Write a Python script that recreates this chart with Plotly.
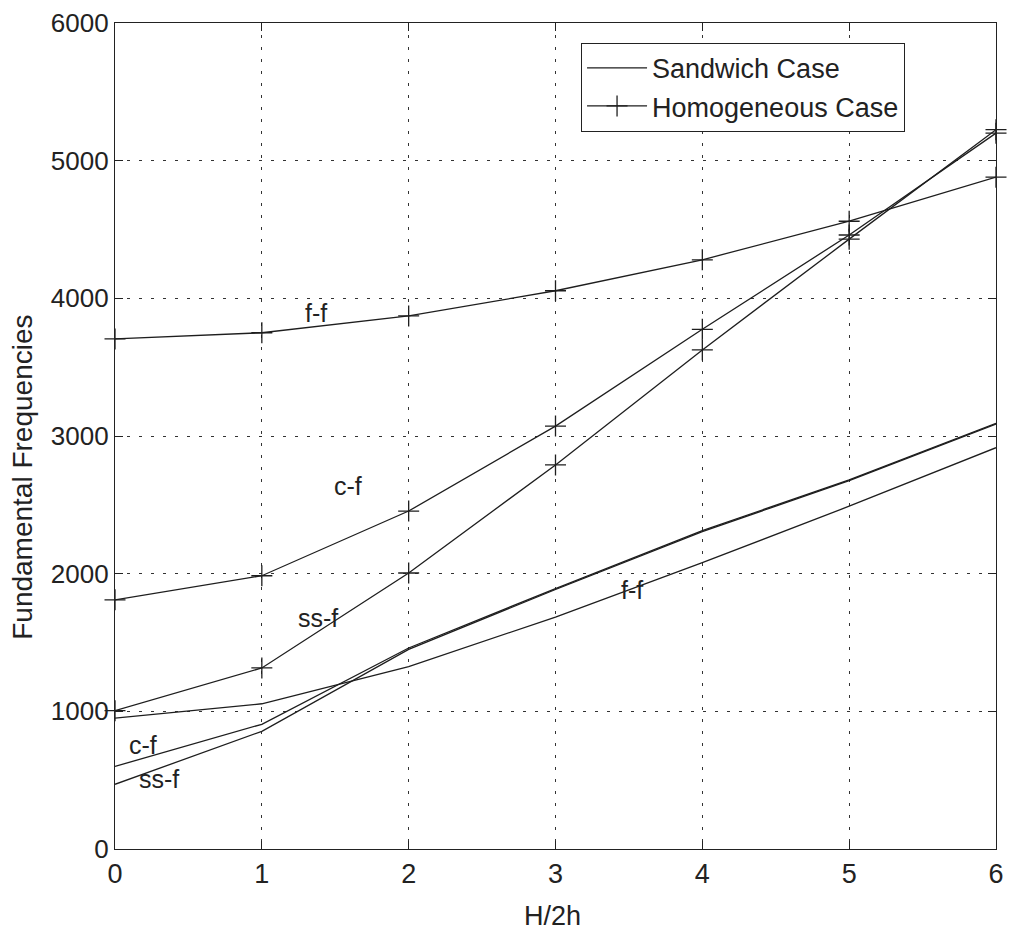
import plotly.graph_objects as go

x_vals = [0, 1, 2, 3, 4, 5, 6]

# Sandwich case
sand_ff = [950, 1055, 1325, 1685, 2080, 2490, 2915]
sand_cf = [600, 906, 1460, 1892, 2312, 2682, 3092]
sand_ssf = [470, 855, 1450, 1885, 2305, 2676, 3086]

# Homogeneous case
hom_ff = [3705, 3750, 3872, 4055, 4280, 4560, 4880]
hom_cf = [1810, 1985, 2455, 3072, 3775, 4460, 5200]
hom_ssf = [1005, 1315, 2005, 2790, 3625, 4430, 5225]

y_ticks = [0, 1000, 2000, 3000, 4000, 5000, 6000]
x_ticks = [0, 1, 2, 3, 4, 5, 6]

labels = [
    ("f-f", 1.37, 3890),
    ("c-f", 1.59, 2640),
    ("ss-f", 1.38, 1680),
    ("f-f", 3.52, 1884),
    ("c-f", 0.19, 756),
    ("ss-f", 0.30, 505),
]

LINE = "#1e1e1e"
FONT = "Liberation Sans, Arial, sans-serif"

fig = go.Figure()

for i, ys in enumerate([sand_ff, sand_cf, sand_ssf]):
    fig.add_trace(go.Scatter(
        x=x_vals, y=ys, mode="lines",
        line=dict(color=LINE, width=1.3),
        name="Sandwich Case", legendgroup="s", showlegend=(i == 0),
    ))

for i, ys in enumerate([hom_ff, hom_cf, hom_ssf]):
    fig.add_trace(go.Scatter(
        x=x_vals, y=ys, mode="lines+markers",
        line=dict(color=LINE, width=1.3),
        marker=dict(symbol="cross-thin", size=15, line=dict(color=LINE, width=1.3)),
        name="Homogeneous Case", legendgroup="h", showlegend=(i == 0),
        cliponaxis=False,
    ))

for txt, lx, ly in labels:
    fig.add_annotation(x=lx, y=ly, text=txt, showarrow=False,
                       font=dict(family=FONT, size=25, color="#222"))

# axis titles as annotations (positioned like the reference)
fig.add_annotation(x=-0.105, y=0.45, xref="paper", yref="paper", text="Fundamental Frequencies",
                   textangle=-90, showarrow=False, xanchor="center", yanchor="middle",
                   font=dict(family=FONT, size=28, color="#222"))
fig.add_annotation(x=0.497, y=-0.081, xref="paper", yref="paper", text="H/2h",
                   showarrow=False, xanchor="center", yanchor="middle",
                   font=dict(family=FONT, size=27, color="#222"))

axis_common = dict(
    showline=True, linecolor="#222", linewidth=1.2, mirror="ticks",
    ticks="inside", ticklen=8, tickcolor="#222", tickwidth=1,
    showgrid=True, gridcolor="#333", gridwidth=1, griddash="3px,9px",
    zeroline=False,
)

fig.update_xaxes(range=[0, 6], tickvals=x_ticks, ticktext=[str(v) for v in x_ticks],
                 tickfont=dict(family=FONT, size=27, color="#222"), **axis_common)
fig.update_yaxes(range=[0, 6000], tickvals=y_ticks, ticktext=[str(v) for v in y_ticks],
                 tickfont=dict(family=FONT, size=26, color="#222"), **axis_common)

fig.update_layout(
    width=1012, height=934,
    margin=dict(l=115, r=8, t=18, b=85),
    paper_bgcolor="white", plot_bgcolor="white",
    legend=dict(x=0.529, y=0.976, xanchor="left", yanchor="top",
                bgcolor="white", bordercolor="#222", borderwidth=1,
                font=dict(family=FONT, size=27, color="#222"),
                itemwidth=60, tracegroupgap=0),
)

fig.write_html("out.html")
